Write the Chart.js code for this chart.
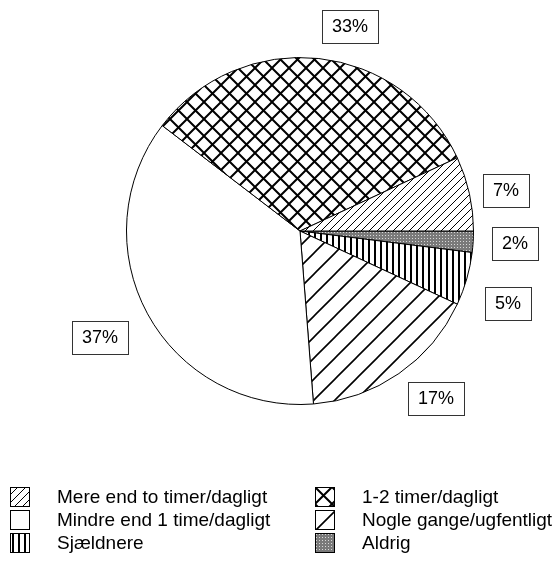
<!DOCTYPE html>
<html>
<head>
<meta charset="utf-8">
<script src="https://cdn.jsdelivr.net/npm/chart.js@4"></script>
<style>
html, body { margin: 0; padding: 0; background: #fff; }
#wrap { width: 557px; height: 567px; }
</style>
</head>
<body>
<div id="wrap"><canvas id="pieChart" width="557" height="567"></canvas></div>
<script>
/* data */
const categories = [
    'Mere end to timer/dagligt',
    '1-2 timer/dagligt',
    'Mindre end 1 time/dagligt',
    'Nogle gange/ugfentligt',
    'Sjældnere',
    'Aldrig'
];
const percents = [7, 33, 37, 17, 5, 2];
const fills = ['fine', 'cross', 'white', 'wide', 'vertical', 'gray'];

// pie is drawn clockwise from east, legend order runs the other way
const pieOrder = [5, 4, 3, 2, 1, 0];

// where the percent boxes sit (centre x, y), same order as categories
const labelCenters = [[506, 190], [350, 26], [100, 337], [436, 398], [508, 303], [515, 243]];

const FONT = '"Liberation Sans", Arial, sans-serif';

/* patterns */
function diagTile(g, s, lw, both) {
    g.strokeStyle = '#000';
    g.lineWidth = lw;
    g.beginPath();
    for (let k = -1; k <= 1; k++) {
        g.moveTo(k * s - 1, s + 1);
        g.lineTo(k * s + s + 1, -1);
        if (both) {
            g.moveTo(k * s - 1, -1);
            g.lineTo(k * s + s + 1, s + 1);
        }
    }
    g.stroke();
}

function makePattern(kind) {
    const c = document.createElement('canvas');
    const g = c.getContext('2d');
    let s = 8;
    if (kind === 'fine') s = 8;
    if (kind === 'cross') s = 17;
    if (kind === 'wide') s = 21;
    if (kind === 'vertical') s = 6;
    if (kind === 'gray') s = 3;
    if (kind === 'white') s = 4;
    c.width = s;
    c.height = s;
    g.fillStyle = '#fff';
    g.fillRect(0, 0, s, s);
    if (kind === 'fine') diagTile(g, s, 1, false);
    if (kind === 'cross') diagTile(g, s, 2, true);
    if (kind === 'wide') diagTile(g, s, 1.6, false);
    if (kind === 'vertical') {
        g.fillStyle = '#000';
        g.fillRect(2, 0, 2, s);
    }
    if (kind === 'gray') {
        g.fillStyle = '#7a7a7a';
        g.fillRect(0, 0, s, s);
        g.fillStyle = '#d8d8d8';
        g.fillRect(1, 1, 1, 1);
    }
    return document.getElementById('pieChart').getContext('2d').createPattern(c, 'repeat');
}

const patterns = fills.map(makePattern);

/* percent boxes + legend */
const boxesAndLegend = {
    id: 'boxesAndLegend',
    afterDraw(chart) {
        const ctx = chart.ctx;
        ctx.save();

        // percent boxes
        ctx.font = '18px ' + FONT;
        ctx.textAlign = 'center';
        ctx.textBaseline = 'middle';
        percents.forEach((v, i) => {
            const txt = v + '%';
            const w = Math.round(ctx.measureText(txt).width) + 20;
            const h = 33;
            const cx = labelCenters[i][0];
            const cy = labelCenters[i][1];
            const x = Math.round(cx - w / 2) + 0.5;
            const y = Math.round(cy - h / 2) + 0.5;
            ctx.fillStyle = '#fff';
            ctx.fillRect(x, y, w, h);
            ctx.strokeStyle = '#333';
            ctx.lineWidth = 1;
            ctx.strokeRect(x, y, w, h);
            ctx.fillStyle = '#000';
            ctx.fillText(txt, cx, cy + 1);
        });

        // legend, two columns
        ctx.font = '19px ' + FONT;
        ctx.textAlign = 'left';
        const colX = [10, 315];
        const rowY = [487, 510, 533];
        const sw = 19;
        categories.forEach((name, i) => {
            const col = i % 2;
            const row = Math.floor(i / 2);
            const x = colX[col];
            const y = rowY[row];
            ctx.save();
            ctx.translate(x, y);
            ctx.fillStyle = patterns[i];
            ctx.fillRect(0, 0, sw, sw);
            ctx.restore();
            ctx.strokeStyle = '#000';
            ctx.lineWidth = 1;
            ctx.strokeRect(x + 0.5, y + 0.5, sw, sw);
            ctx.fillStyle = '#000';
            ctx.fillText(name, x + 47, y + sw / 2 + 1);
        });
        ctx.restore();
    }
};

/* pie */
const pieChart = new Chart(document.getElementById('pieChart'), {
    type: 'pie',
    data: {
        labels: pieOrder.map(i => categories[i]),
        datasets: [{
            data: pieOrder.map(i => percents[i]),
            backgroundColor: pieOrder.map(i => patterns[i]),
            borderColor: '#000',
            borderWidth: 1
        }]
    },
    options: {
        responsive: false,
        animation: false,
        events: [],
        rotation: 90,
        layout: {
            padding: { left: 126, right: 83, top: 57, bottom: 162 }
        },
        plugins: {
            legend: { display: false },
            tooltip: { enabled: false }
        }
    },
    plugins: [boxesAndLegend]
});
</script>
</body>
</html>
